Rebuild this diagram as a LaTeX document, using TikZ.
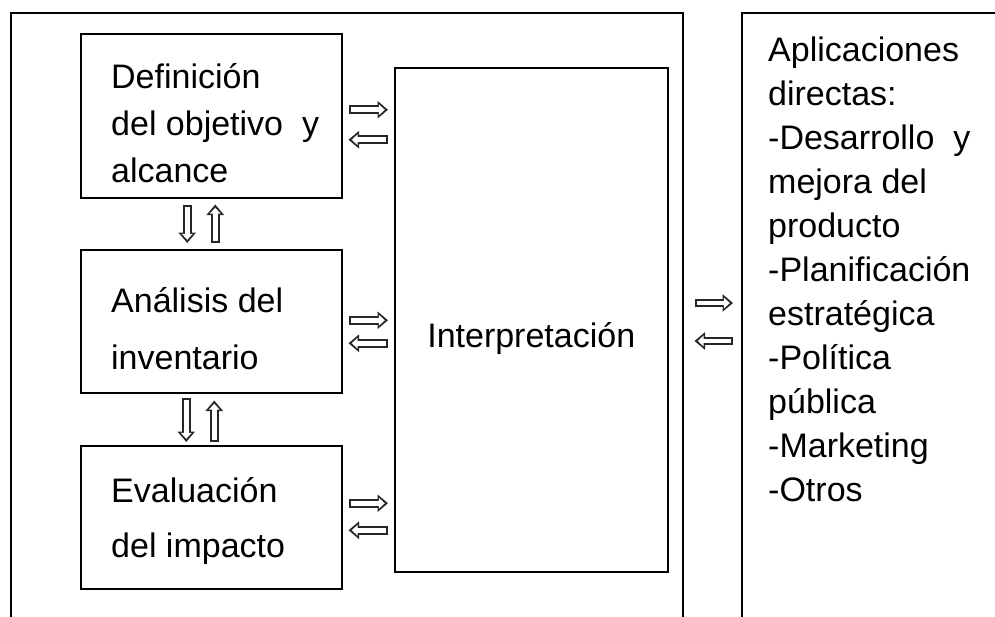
\documentclass[tikz,border=0pt]{standalone}
\usepackage{fontspec}
\setmainfont{Liberation Sans}
\usetikzlibrary{arrows.meta}
\tikzset{
  box/.style={draw, line width=1.5pt, inner sep=0pt, anchor=north west},
  txt/.style={align=left, inner sep=0pt},
  hollow/.style={draw=white, line width=4.6pt, shorten <=2pt, shorten >=3.2pt,
    -{Triangle[length=6pt, width=10.6pt]},
    preaction={draw=black!85, line width=8.6pt, shorten <=0pt, shorten >=0pt,
      -{Triangle[length=10.5pt, width=17pt]}}}
}
\begin{document}
\begin{tikzpicture}[x=1pt, y=-1pt]
      \useasboundingbox (0,0) rectangle (995,616);
      % frames
      \node[box, minimum width=672pt, minimum height=700pt] (lca) at (10,12) {};
      \node[box, minimum width=300pt, minimum height=700pt] (apps) at (741,12) {};
      % phases
      \node[box, minimum width=261pt, minimum height=164pt] (def) at (80,33) {};
      \node[box, minimum width=261pt, minimum height=143pt] (ana) at (80,249) {};
      \node[box, minimum width=261pt, minimum height=143pt] (eva) at (80,445) {};
      \node[box, minimum width=273pt, minimum height=504pt] (interp) at (394,67) {};
      % texts
      \node[txt, anchor=west, font=\fontsize{34}{47}\selectfont] (defText)
        at ([xshift=31pt,yshift=-7pt]def.west) {Definición\\del objetivo\ \ y\\alcance};
      \node[txt, anchor=west, font=\fontsize{34}{57}\selectfont] (anaText)
        at ([xshift=31pt,yshift=-7pt]ana.west) {Análisis del\\inventario};
      \node[txt, anchor=west, font=\fontsize{34}{55}\selectfont] (evaText)
        at ([xshift=31pt,yshift=-4pt]eva.west) {Evaluación\\del impacto};
      \node[txt, font=\fontsize{34}{40}\selectfont] (interpText)
        at ([yshift=-19pt]interp.center) {Interpretación};
      \node[txt, anchor=north west, font=\fontsize{34}{44}\selectfont] (appsText)
        at ([xshift=27pt,yshift=-25pt]apps.north west)
        {Aplicaciones\\directas:\\-Desarrollo\ \ y\\mejora del\\producto\\-Planificación\\estratégica\\-Política\\pública\\-Marketing\\-Otros};
      % arrows between phases and interpretation
      \coordinate (d1) at ([yshift=6pt]def.east);
      \coordinate (d2) at ([yshift=-24pt]def.east);
      \coordinate (a1) at ([yshift=1pt]ana.east);
      \coordinate (a2) at ([yshift=-22pt]ana.east);
      \coordinate (e1) at ([yshift=14pt]eva.east);
      \coordinate (e2) at ([yshift=-13pt]eva.east);
      \draw[hollow] ([xshift=6pt]d1) -- ([xshift=-6pt]d1 -| interp.west);
      \draw[hollow] ([xshift=-6pt]d2 -| interp.west) -- ([xshift=6pt]d2);
      \draw[hollow] ([xshift=6pt]a1) -- ([xshift=-6pt]a1 -| interp.west);
      \draw[hollow] ([xshift=-6pt]a2 -| interp.west) -- ([xshift=6pt]a2);
      \draw[hollow] ([xshift=6pt]e1) -- ([xshift=-6pt]e1 -| interp.west);
      \draw[hollow] ([xshift=-6pt]e2 -| interp.west) -- ([xshift=6pt]e2);
      % arrows between phases
      \draw[hollow] ([xshift=-24pt,yshift=-6pt]def.south) -- ([xshift=-24pt,yshift=6pt]ana.north);
      \draw[hollow] ([xshift=4pt,yshift=6pt]ana.north) -- ([xshift=4pt,yshift=-6pt]def.south);
      \draw[hollow] ([xshift=-25pt,yshift=-4pt]ana.south) -- ([xshift=-25pt,yshift=3pt]eva.north);
      \draw[hollow] ([xshift=3pt,yshift=3pt]eva.north) -- ([xshift=3pt,yshift=-7pt]ana.south);
      % arrows between study and applications
      \coordinate (l1) at (lca.east |- 0,303);
      \coordinate (l2) at (lca.east |- 0,341);
      \draw[hollow] ([xshift=11pt]l1) -- ([xshift=-8pt]l1 -| apps.west);
      \draw[hollow] ([xshift=-8pt]l2 -| apps.west) -- ([xshift=11pt]l2);
\end{tikzpicture}
\end{document}
